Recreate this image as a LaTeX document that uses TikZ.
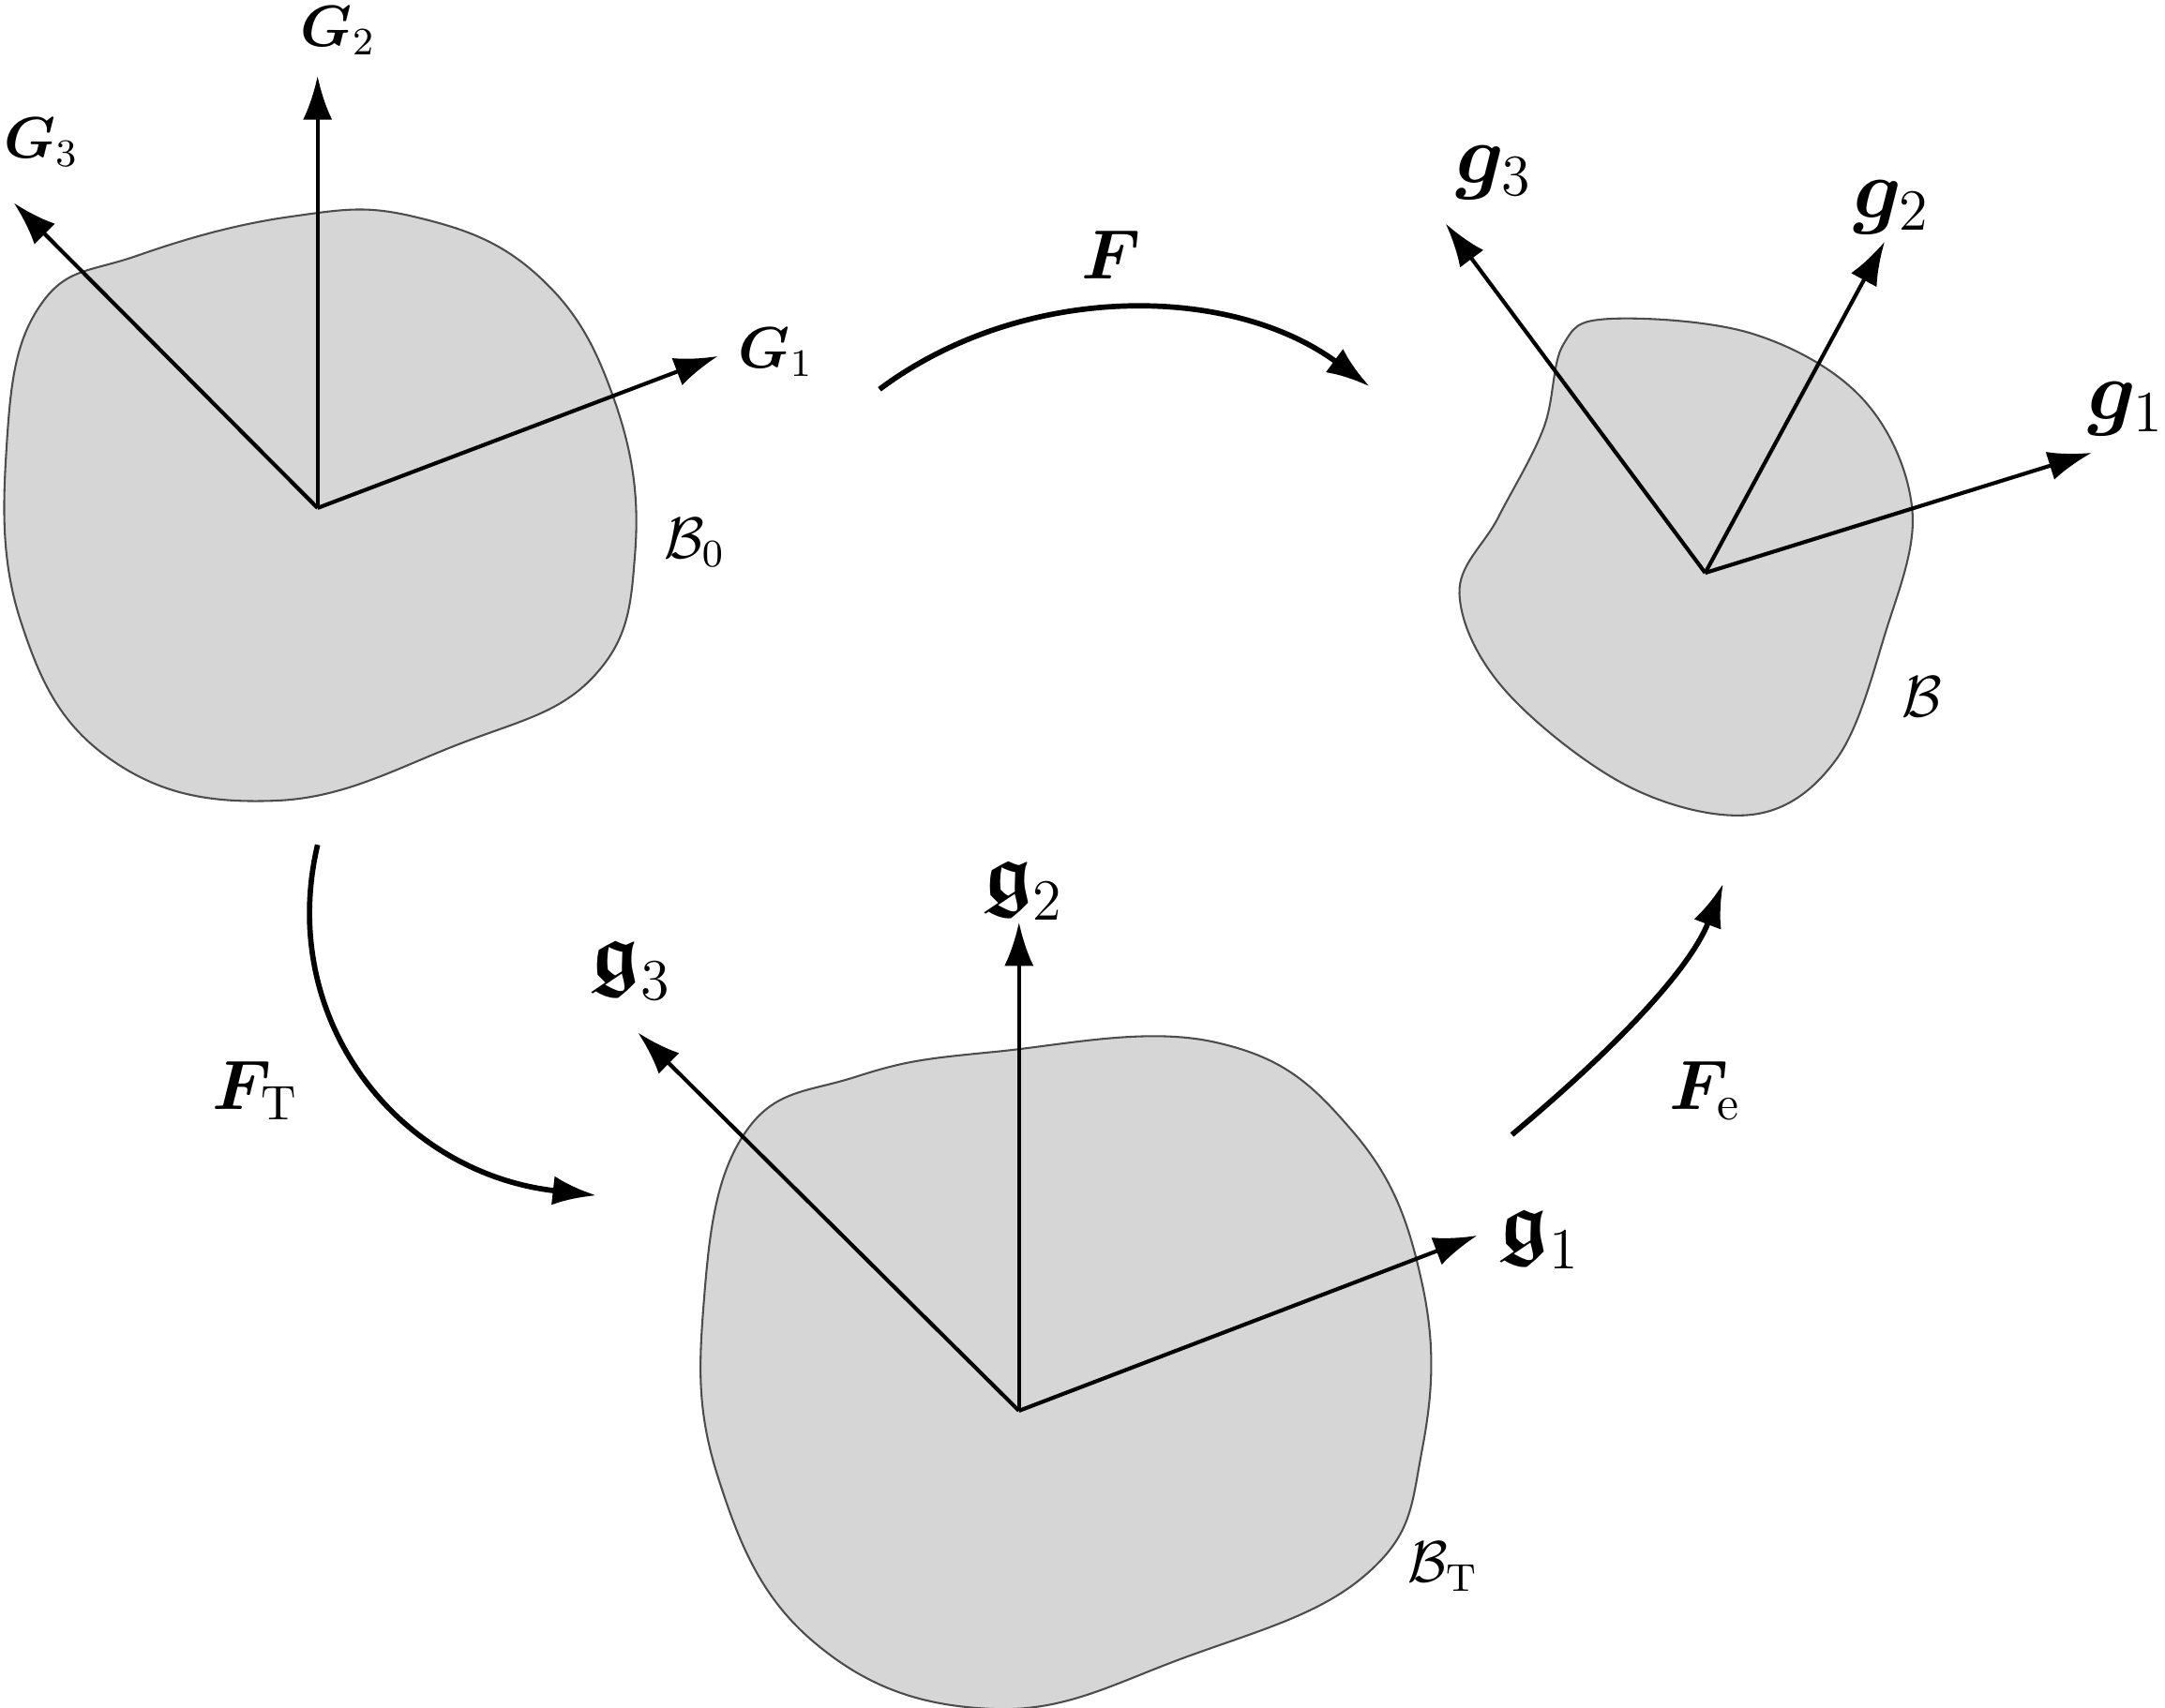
\documentclass[tikz,border=0pt]{standalone}
\usepackage{amsmath,amssymb,bm}
\usetikzlibrary{arrows.meta}
\begin{document}
\begin{tikzpicture}[x=0.01cm,y=-0.01cm,
  blob/.style={fill=black!16,draw=black!70,line width=0.4pt},
  axis/.style={line width=0.8pt,-{Latex[length=9pt,width=6pt]}},
  map/.style={line width=1.1pt,-{Latex[length=9pt,width=6pt]}},
  lbl/.style={font=\large},
  lblg/.style={font=\LARGE}]
\useasboundingbox (0,0) rectangle (1568,1237);
% blobs
\draw[blob] plot[smooth cycle,tension=0.7] coordinates {(210,157)(300,157)(390,200)(445,290)(460,400)(430,490)(330,540)(200,580)(80,550)(15,450)(5,320)(30,220)(100,185)};
\draw[blob] plot[smooth cycle,tension=0.6] coordinates {(1165,231)(1270,242)(1350,290)(1385,370)(1365,460)(1330,550)(1270,590)(1180,570)(1090,500)(1057,430)(1085,375)(1118,310)(1132,250)};
\draw[blob] plot[smooth cycle,tension=0.7] coordinates {(720,762)(880,755)(980,820)(1030,930)(1030,1050)(990,1140)(860,1200)(720,1238)(590,1190)(520,1070)(510,940)(540,820)(620,780)};
% origins
\coordinate (O1) at (230,368);
\coordinate (O2) at (1235,415);
\coordinate (O3) at (738,1022);
\coordinate (G1) at (520,258); \coordinate (G2) at (230,55); \coordinate (G3) at (10,147);
\coordinate (g1) at (1515,328); \coordinate (g2) at (1365,175); \coordinate (g3) at (1047,162);
\coordinate (h1) at (1070,895); \coordinate (h2) at (738,668); \coordinate (h3) at (462,748);
\foreach \t in {G1,G2,G3} \draw[axis] (O1) -- (\t);
\foreach \t in {g1,g2,g3} \draw[axis] (O2) -- (\t);
\foreach \t in {h1,h2,h3} \draw[axis] (O3) -- (\t);
% labels
\node[lbl] (lG2) at (245,22) {$\bm{G}_2$};
\node[lbl] (lG3) at (30,103) {$\bm{G}_3$};
\node[lbl] (lG1) at (562,255) {$\bm{G}_1$};
\node[lbl] (lB0) at (503,393) {$\mathcal{B}_0$};
\node[lblg] (lg3) at (1082,125) {$\bm{g}_3$};
\node[lblg] (lg2) at (1370,150) {$\bm{g}_2$};
\node[lblg] (lg1) at (1540,296) {$\bm{g}_1$};
\node[lbl] (lB) at (1392,505) {$\mathcal{B}$};
\node[lblg] (lh2) at (741,645) {$\boldsymbol{\mathfrak{g}}_2$};
\node[lblg] (lh3) at (457,703) {$\boldsymbol{\mathfrak{g}}_3$};
\node[lblg] (lh1) at (1115,898) {$\boldsymbol{\mathfrak{g}}_1$};
\node[lbl] (lBT) at (1045,1135) {$\mathcal{B}_{\mathrm{T}}$};
\node[font=\Large] (lF) at (805,185) {$\bm{F}$};
\node[font=\Large] (lFT) at (185,790) {$\bm{F}_{\mathrm{T}}$};
\node[font=\Large] (lFe) at (1235,790) {$\bm{F}_{\mathrm{e}}$};
% maps
\coordinate (a1) at (637,282); \coordinate (a2) at (992,280);
\draw[map] (a1) .. controls (740,205) and (890,205) .. (a2);
\coordinate (b1) at (230,612); \coordinate (b2) at (432,866);
\draw[map] (b1) .. controls (200,740) and (290,850) .. (b2);
\coordinate (c1) at (1095,822); \coordinate (c2) at (1248,640);
\draw[map] (c1) .. controls (1175,755) and (1225,700) .. (c2);
\end{tikzpicture}
\end{document}
